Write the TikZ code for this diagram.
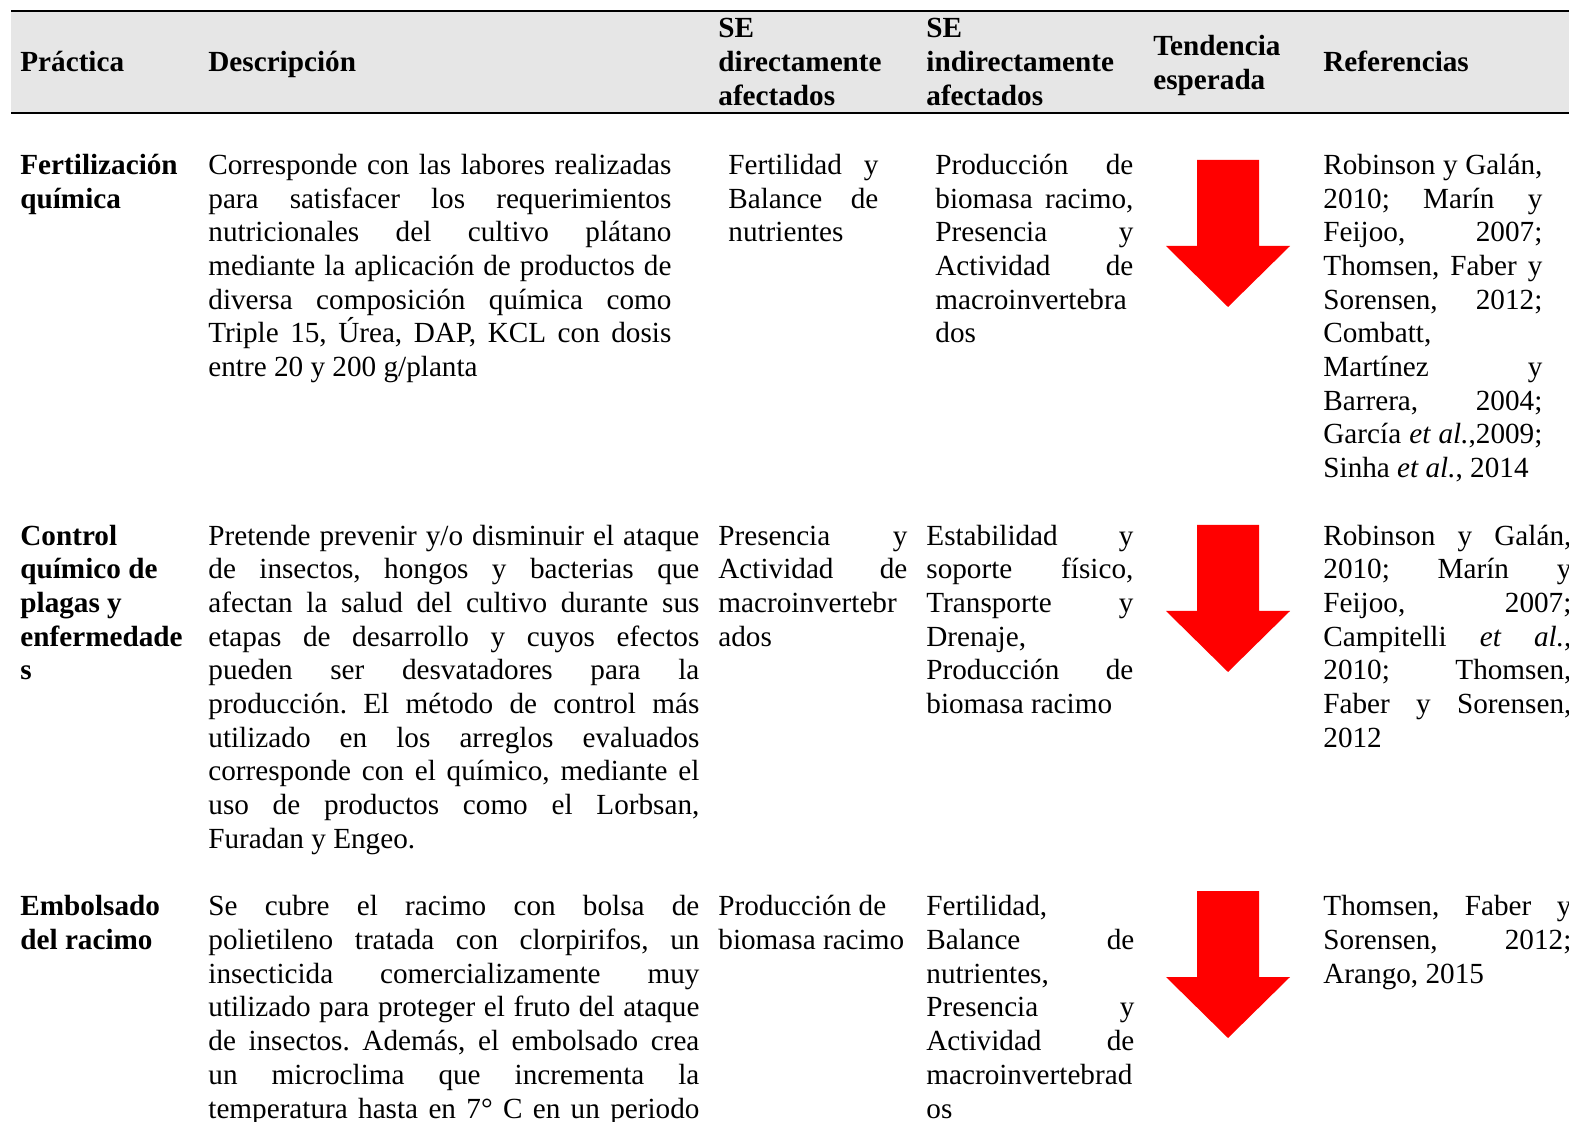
\documentclass[tikz,border=0pt]{standalone}
\usepackage{fontspec}
\setmainfont{Liberation Serif}
\definecolor{headgray}{HTML}{E6E6E6}
\definecolor{arrowred}{HTML}{FF0000}
\newcommand{\topstrut}{\rule{0pt}{12pt}}
\pretolerance=10000
\hbadness=10000
\frenchspacing
\tikzset{
    cell/.style = {anchor = north west, inner sep = 0pt, font = \fontsize{14.6}{16.85}\selectfont},
    jcell/.style = {cell, align = justify},
    lcell/.style = {cell, align = left},
    bcell/.style = {cell, align = left, font = \fontsize{14.6}{16.85}\selectfont\bfseries},
    hcell/.style = {cell, align = left, font = \fontsize{14.6}{17}\selectfont\bfseries}
}

\begin{document}
\begin{tikzpicture}[x=0.5pt, y=-0.5pt]
        \useasboundingbox (0,0) rectangle (1569,1122);
        \clip (0,0) rectangle (1569,1122);

        \fill [headgray] (11,11) rectangle (1569,113);
        \draw [line width = 1pt] (11,11) -- (1569,11);
        \draw [line width = 1pt] (11,113) -- (1569,113);

        \node (hprac) at (20,47.5) [hcell] {\topstrut Práctica};
        \node (hdesc) at (208,47.5) [hcell] {\topstrut Descripción};
        \node (hdir) at (718,13.5) [hcell] {\topstrut SE\\directamente\\afectados};
        \node (hind) at (926,13.5) [hcell] {\topstrut SE\\indirectamente\\afectados};
        \node (htend) at (1153,31) [hcell] {\topstrut Tendencia\\esperada};
        \node (href) at (1323,47.5) [hcell] {\topstrut Referencias};

        \node (prac1) at (20,150) [bcell] {\topstrut Fertilización\\química};
        \node (desc1) at (208,150) [jcell, text width = 231.5pt] {\topstrut Corresponde con las labores realizadas\linebreak para satisfacer los requerimientos\linebreak nutricionales del cultivo plátano\linebreak mediante la aplicación de productos de\linebreak diversa composición química como\linebreak Triple 15, Úrea, DAP, KCL con dosis\linebreak entre 20 y 200 g/planta};
        \node (dir1) at (728,150) [jcell, text width = 75pt] {\topstrut Fertilidad y\linebreak Balance de\linebreak nutrientes};
        \node (ind1) at (935,150) [jcell, text width = 99pt] {\topstrut Producción de\linebreak biomasa racimo,\linebreak Presencia y\linebreak Actividad de\linebreak macroinvertebra\linebreak dos};
        \node (ref1) at (1323,150) [jcell, text width = 109.5pt] {\topstrut Robinson y Galán,\linebreak 2010; Marín y\linebreak Feijoo, 2007;\linebreak Thomsen, Faber y\linebreak Sorensen, 2012;\linebreak Combatt,\linebreak Martínez y\linebreak Barrera, 2004;\linebreak García \textit{et al.},2009;\linebreak Sinha \textit{et al.}, 2014};

        \node (prac2) at (20,520.7) [bcell] {\topstrut Control\\químico de\\plagas y\\enfermedade\\s};
        \node (desc2) at (208,520.7) [jcell, text width = 245.5pt] {\topstrut Pretende prevenir y/o disminuir el ataque\linebreak de insectos, hongos y bacterias que\linebreak afectan la salud del cultivo durante sus\linebreak etapas de desarrollo y cuyos efectos\linebreak pueden ser desvatadores para la\linebreak producción. El método de control más\linebreak utilizado en los arreglos evaluados\linebreak corresponde con el químico, mediante el\linebreak uso de productos como el Lorbsan,\linebreak Furadan y Engeo.};
        \node (dir2) at (718,520.7) [jcell, text width = 94.5pt] {\topstrut Presencia y\linebreak Actividad de\linebreak macroinvertebr\linebreak ados};
        \node (ind2) at (926,520.7) [jcell, text width = 103.5pt] {\topstrut Estabilidad y\linebreak soporte físico,\linebreak Transporte y\linebreak Drenaje,\linebreak Producción de\linebreak biomasa racimo};
        \node (ref2) at (1323,520.7) [jcell, text width = 124pt] {\topstrut Robinson y Galán,\linebreak 2010; Marín y\linebreak Feijoo, 2007;\linebreak Campitelli \textit{et al.},\linebreak 2010; Thomsen,\linebreak Faber y Sorensen,\linebreak 2012};

        \node (prac3) at (20,891.4) [bcell] {\topstrut Embolsado\\del racimo};
        \node (desc3) at (208,891.4) [jcell, text width = 245.5pt] {\topstrut Se cubre el racimo con bolsa de\linebreak polietileno tratada con clorpirifos, un\linebreak insecticida comercializamente muy\linebreak utilizado para proteger el fruto del ataque\linebreak de insectos. Además, el embolsado crea\linebreak un microclima que incrementa la\linebreak temperatura hasta en 7° C en un periodo\linebreak\mbox{}};
        \node (dir3) at (718,891.4) [lcell] {\topstrut Producción de\\biomasa racimo};
        \node (ind3) at (926,891.4) [jcell, text width = 104pt] {\topstrut Fertilidad,\linebreak Balance de\linebreak nutrientes,\linebreak Presencia y\linebreak Actividad de\linebreak macroinvertebrad\linebreak os};
        \node (ref3) at (1323,891.4) [jcell, text width = 124pt] {\topstrut Thomsen, Faber y\linebreak Sorensen, 2012;\linebreak Arango, 2015};

        \foreach \ytop in {160,525,891}
            \fill [arrowred] (1197,\ytop) -- (1259,\ytop) -- (1259,\ytop+86) -- (1290,\ytop+86)
                -- (1228,\ytop+147) -- (1166,\ytop+86) -- (1197,\ytop+86) -- cycle;

    \end{tikzpicture}
\end{document}
